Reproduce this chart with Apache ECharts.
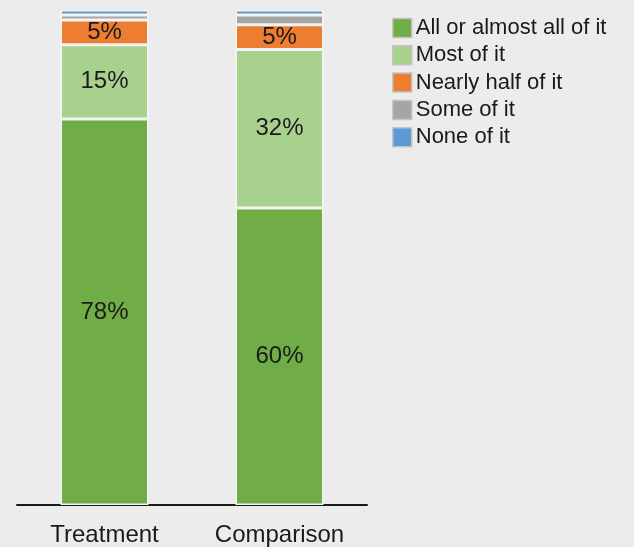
<!DOCTYPE html>
<html>
<head>
<meta charset="utf-8">
<script src="https://cdn.jsdelivr.net/npm/echarts@6/dist/echarts.min.js"></script>
<style>
  html, body { margin: 0; padding: 0; background: #ececec; }
  #chart { width: 634px; height: 547px; }
</style>
</head>
<body>
<div id="chart"></div>
<script>
// Groups and response shares (percent)
const categories = ['Treatment', 'Comparison'];
const seriesNames = ['All or almost all of it', 'Most of it', 'Nearly half of it', 'Some of it', 'None of it'];
const allOrAlmostAll = [78, 60];
const mostOfIt = [15, 32];
const nearlyHalf = [5, 5];
const someOfIt = [1, 2];
const noneOfIt = [1, 1];
const colors = ['#70ad47', '#a9d18e', '#ed7d31', '#a5a5a5', '#5b9bd5'];
// Only the larger segments carry a value label
const showLabel = [true, true, true, false, false];

const values = [allOrAlmostAll, mostOfIt, nearlyHalf, someOfIt, noneOfIt];
const font = '"Liberation Sans", Arial, sans-serif';
const textColor = '#1a1a1a';

const chart = echarts.init(document.getElementById('chart'));
chart.setOption({
  backgroundColor: '#ececec',
  animation: false,
  textStyle: { fontFamily: font },
  legend: {
    orient: 'vertical',
    left: 387,
    top: 12,
    itemWidth: 19,
    itemHeight: 19,
    itemGap: 5.3,
    icon: 'rect',
    itemStyle: { borderColor: '#c4c4c4', borderWidth: 1.5 },
    textStyle: { fontSize: 22, lineHeight: 19, color: textColor, fontFamily: font, padding: [0, 0, 0, -1] },
    data: seriesNames
  },
  grid: { left: 17, right: 267, top: 10, bottom: 41, containLabel: false },
  xAxis: {
    type: 'category',
    data: categories,
    axisLine: { lineStyle: { color: textColor, width: 2 } },
    axisTick: { show: false },
    axisLabel: { fontSize: 24, color: textColor, margin: 18, fontFamily: font }
  },
  yAxis: {
    type: 'value',
    min: 0,
    max: 100,
    show: false
  },
  series: seriesNames.map((name, i) => ({
    name: name,
    type: 'bar',
    stack: 'total',
    barWidth: 88,
    data: values[i],
    itemStyle: { color: colors[i], borderColor: '#f4f4f4', borderWidth: 1.5 },
    label: {
      show: showLabel[i],
      position: 'inside',
      formatter: '{c}%',
      fontSize: 24,
      color: textColor,
      fontFamily: font
    }
  }))
});
</script>
</body>
</html>
